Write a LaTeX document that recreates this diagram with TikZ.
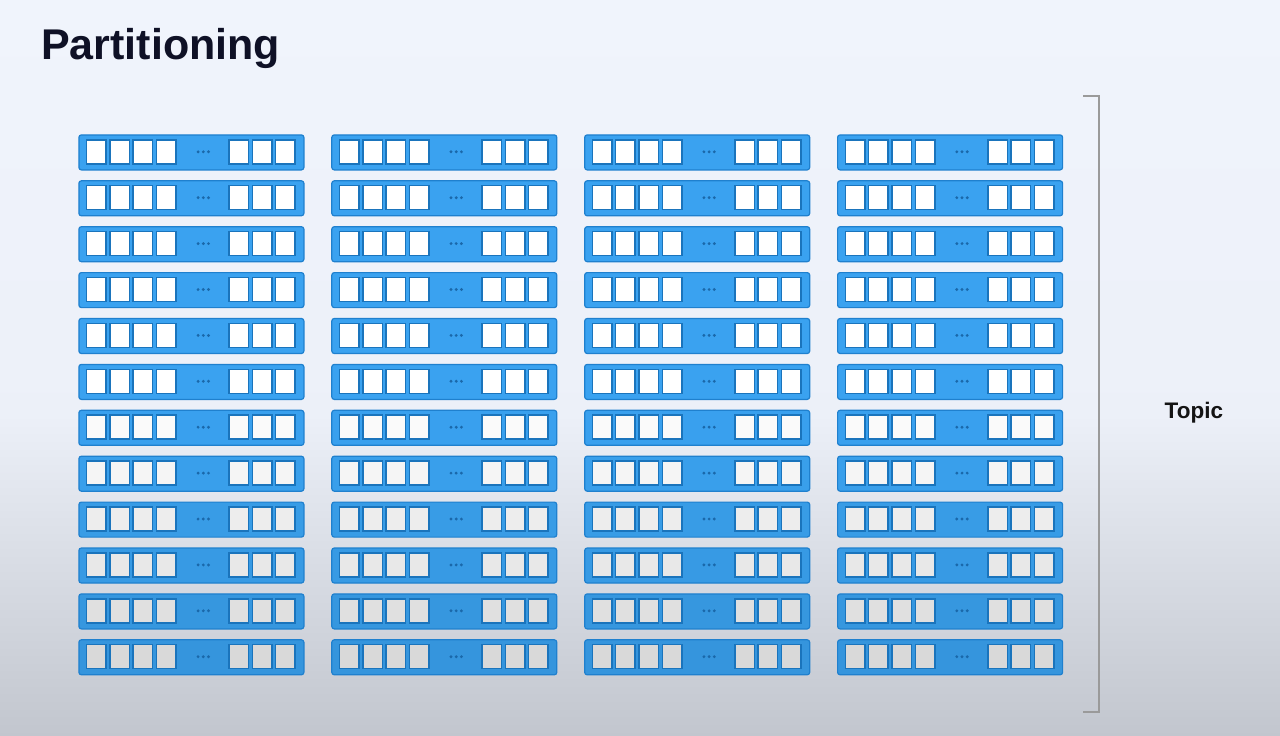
\documentclass[tikz,border=0pt]{standalone}
\usepackage{fontspec}
\setmainfont{Liberation Sans}
\definecolor{bgtop}{HTML}{F0F4FC}
\definecolor{bgbot}{HTML}{C2C6CE}
\definecolor{boxblue}{HTML}{3AA2F0}
\definecolor{boxedge}{HTML}{1F80CE}
\definecolor{celledge}{HTML}{1A74BC}
\definecolor{dotblue}{HTML}{1A68AA}
\definecolor{titlecol}{HTML}{0F1126}
\definecolor{brack}{HTML}{9A9A9A}
\pgfdeclareverticalshading{bgshade}{100bp}{color(0bp)=(bgbot); color(25bp)=(bgbot); color(47bp)=(bgtop!92!bgbot); color(75bp)=(bgtop); color(100bp)=(bgtop)}
\tikzset{
  partbox/.style={draw=boxedge, line width=1.2pt, rounded corners=2.5pt, minimum width=225pt, minimum height=35pt, inner sep=0pt, anchor=north west},
  cellbox/.style={draw=celledge, line width=1.5pt, minimum width=19.5pt, minimum height=24pt, inner sep=0pt},
  dotmark/.style={fill=dotblue, draw=none},
  bracketline/.style={draw=brack, line width=2pt},
  titletext/.style={font=\fontsize{43}{50}\selectfont\bfseries, text=titlecol, anchor=base west, inner sep=0pt},
  topictext/.style={font=\fontsize{22.5}{26}\selectfont\bfseries, text=black!92, anchor=base west, inner sep=0pt}
}
\begin{document}
\begin{tikzpicture}[x=1pt,y=-1pt]
\useasboundingbox (0,0) rectangle (1280,736);
\shade[shading=bgshade] (0,0) rectangle (1280,736);
\node[titletext] (title) at (41,59.5) {Partitioning};
\foreach \c in {0,...,3}{
  \foreach \r in {0,...,11}{
    \pgfmathsetmacro\bx{78.3+252.9*\c}
    \pgfmathsetmacro\by{134.3+45.9*\r}
    \pgfmathsetmacro\g{max(0,(\by+17.5-400)/336)}
    \pgfmathtruncatemacro\cw{100-round(\g*19)}
    \pgfmathtruncatemacro\bw{100-round(\g*11)}
    \colorlet{cellfill}{white!\cw!black}
    \colorlet{rowblue}{boxblue!\bw!black}
    \node[partbox, fill=rowblue] (p-\c-\r) at (\bx,\by) {};
    \foreach \k/\off in {1/18,2/41.3,3/64.6,4/88,5/160.5,6/183.8,7/207.1}{
      \node[cellbox, fill=cellfill] (p-\c-\r-\k) at (\bx+\off,\by+17.5) {};
    }
    \foreach \d in {-5.2,0,5.2}{
      \fill[dotmark] (\bx+125+\d,\by+17.5) circle (1.6pt);
    }
  }
}
\coordinate (bt0) at (1083,96);
\coordinate (bt1) at (1099,96);
\coordinate (bb1) at (1099,712);
\coordinate (bb0) at (1083,712);
\draw[bracketline] (bt0) -- (bt1) -- (bb1) -- (bb0);
\node[topictext] (topic) at (1164.5,418) {Topic};
\end{tikzpicture}
\end{document}
